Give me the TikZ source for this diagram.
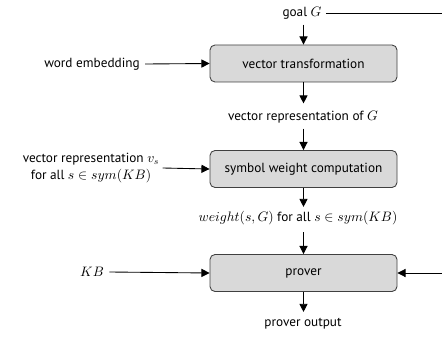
\documentclass[tikz,border=0pt]{standalone}
\usepackage[no-math]{fontspec}
\setmainfont{PT Sans}
\usetikzlibrary{arrows.meta}
\begin{document}
\begin{tikzpicture}[x=0.8pt,y=-0.8pt,
  every node/.style={font=\fontsize{10.6}{13}\selectfont},
  box/.style={draw=black!75,fill=black!15,rounded corners=4pt,line width=0.7pt,
    minimum width=187*0.8pt,minimum height=37*0.8pt,inner sep=0pt,anchor=center},
  lbl/.style={inner sep=1pt,anchor=center,align=center},
  conn/.style={line width=0.7pt,-{Triangle[length=6.5pt,width=6.5pt]}},
  plain/.style={line width=0.7pt}]
\useasboundingbox (0,0) rectangle (442,338);
\node[box] (vt) at (303.5,63.5) {vector transformation};
\node[box] (sw) at (303.5,169) {symbol weight computation};
\node[box] (pr) at (303.5,273) {prover};
\node[lbl] (goal) at (302,13) {goal $G$};
\node[lbl] (we) at (92,64) {word embedding};
\node[lbl] (vrg) at (303,117) {vector representation of $G$};
\node[lbl,align=center] (vrs) at (91,168) {vector representation $v_s$\\ for all $s\in sym(KB)$};
\node[lbl] (wgt) at (298,218) {$weight(s,G)$ for all $s\in sym(KB)$};
\node[lbl] (kb) at (92,272) {$KB$};
\node[lbl] (po) at (303,324) {prover output};
\coordinate (gr) at (442,13);
\coordinate (pr2) at (442,273);
\draw[plain] (goal.east) ++(3,0) -- (gr);
\draw[conn] (goal.south -| vt.north) ++(0,4) -- (vt.north);
\draw[conn] (we.east) ++(4,0) -- (vt.west);
\draw[conn] (vt.south) -- ++(0,21);
\draw[conn] (vrg.south -| sw.north) ++(0,4) -- (sw.north);
\draw[conn] (vrs.east) ++(2,0) -- (sw.west);
\draw[conn] (sw.south) -- ++(0,19);
\draw[conn] (wgt.south -| pr.north) ++(0,6) -- (pr.north);
\draw[conn] (kb.east) ++(4,0) -- (pr.west);
\draw[conn] (pr2) -- (pr.east);
\draw[conn] (pr.south) -- ++(0,20);
\end{tikzpicture}
\end{document}
